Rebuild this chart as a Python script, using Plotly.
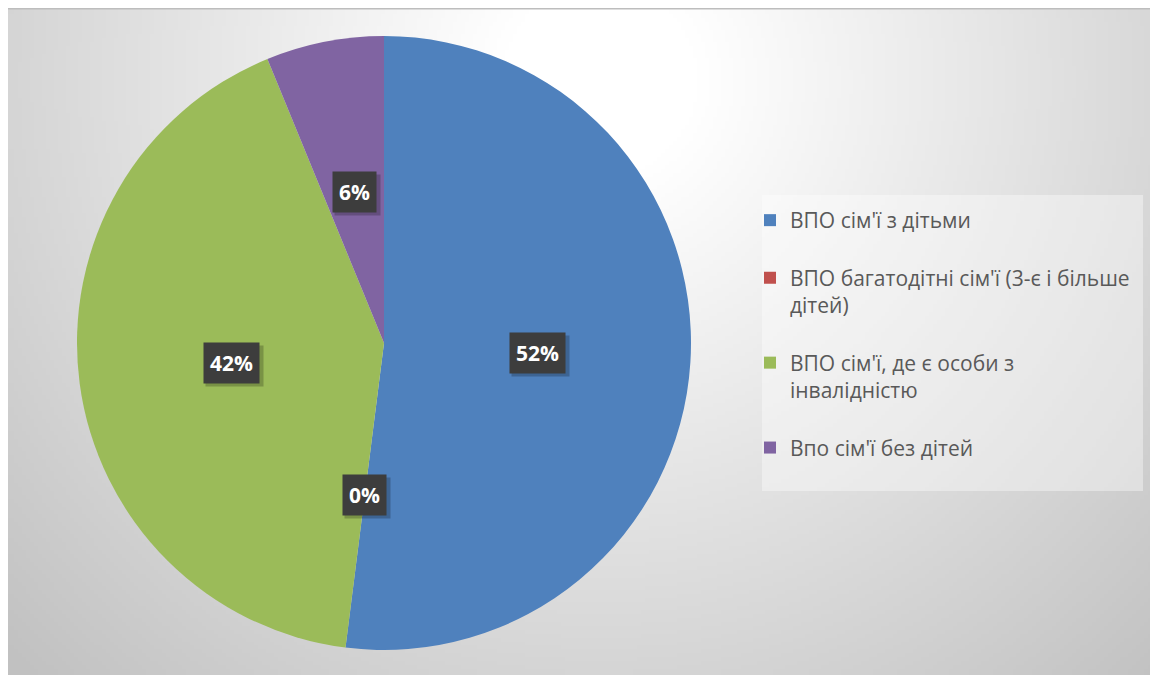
import base64, struct, zlib, math
import numpy as np
import plotly.graph_objects as go

# ---- data ----
labels = [
    "ВПО сім'ї з дітьми",
    "ВПО багатодітні сім'ї (3-є і більше<br>дітей)",
    "ВПО сім'ї, де є особи з<br>інвалідністю",
    "Впо сім'ї без дітей",
]
values = [52.0, 0.0, 41.8, 6.2]
colors = ["#4f81bd", "#c0504d", "#9bbb59", "#8064a2"]

# page body has an 8px margin: figure coordinates = screen coordinates - 8
OFF = 8
W, H = 1158 - OFF, 677 - OFF

def fx(sx):
    return (sx - OFF) / W

def fy(sy):
    return 1 - (sy - OFF) / H

# ---- background radial gradient as a PNG data URI ----
def png_gray(arr):
    h, w = arr.shape
    raw = b"".join(b"\x00" + arr[i].tobytes() for i in range(h))
    def chunk(t, d):
        c = struct.pack(">I", len(d)) + t + d
        return c + struct.pack(">I", zlib.crc32(t + d) & 0xFFFFFFFF)
    png = (b"\x89PNG\r\n\x1a\n"
           + chunk(b"IHDR", struct.pack(">IIBBBBB", w, h, 8, 0, 0, 0, 0))
           + chunk(b"IDAT", zlib.compress(raw))
           + chunk(b"IEND", b""))
    return "data:image/png;base64," + base64.b64encode(png).decode()

gw, gh = 288, 168
xs = OFF + (np.arange(gw) + 0.5) * W / gw
ys = OFF + (np.arange(gh) + 0.5) * (H - 2) / gh
XX, YY = np.meshgrid(xs, ys)
d = np.sqrt((XX - 600) ** 2 + (YY - 80) ** 2)
g = 255 - np.clip((d - 100) * 0.085, 0, 62)
bg_uri = png_gray(g.astype(np.uint8))

# ---- pie geometry (screen pixels) ----
cx, cy, R = 384, 343, 307
dom_x = [fx(cx - R), fx(cx + R)]
dom_y = [fy(cy + R), fy(cy - R)]

# legend text: extra blank lines spread the entries like the original
pad_lines = [1, 1, 1, 0]
legend_names = [lab + "<br>\u00a0" * p for lab, p in zip(labels, pad_lines)]

fig = go.Figure()
fig.add_trace(go.Pie(
    labels=legend_names, values=values, sort=False, direction="clockwise", rotation=0,
    marker=dict(colors=colors, line=dict(width=0)),
    textinfo="none", domain=dict(x=dom_x, y=dom_y), showlegend=True,
    hovertemplate="%{label}: %{percent}<extra></extra>",
))

# ---- data labels computed from the values ----
def spacer(s):
    # blank text of about the same width (for the soft shadow box)
    return "".join("\u2007" if ch.isdigit() else "\u2003" for ch in s)

total = sum(values)
annotations = []
cum = 0.0
for v in values:
    mid = (cum + v / 2) / total * 2 * math.pi
    cum += v
    px = cx + 0.5 * R * math.sin(mid)
    py = cy - 0.5 * R * math.cos(mid)
    txt = f"{round(v / total * 100)}%"
    common = dict(x=fx(px), y=fy(py), xref="paper", yref="paper",
                  showarrow=False, xanchor="center", yanchor="middle", borderpad=6)
    annotations.append(dict(common, xshift=3, yshift=-3, bgcolor="rgba(0,0,0,0.22)",
                            text=f"<b>{spacer(txt)}</b>",
                            font=dict(family="Open Sans", size=21, color="rgba(0,0,0,0)")))
    annotations.append(dict(common, bgcolor="#3d3d3d", text=f"<b>{txt}</b>",
                            font=dict(family="Open Sans", size=21, color="white")))

fig.update_layout(
    width=W, height=H,
    margin=dict(l=0, r=0, t=0, b=0),
    paper_bgcolor="white", plot_bgcolor="white",
    images=[dict(source=bg_uri, xref="paper", yref="paper",
                 x=0, y=1, sizex=1, sizey=(H - 2) / H,
                 xanchor="left", yanchor="top", sizing="stretch", layer="below")],
    shapes=[
        dict(type="rect", xref="paper", yref="paper",
             x0=fx(762), x1=fx(1143), y0=fy(491), y1=fy(195),
             fillcolor="rgba(255,255,255,0.38)", line=dict(width=0), layer="below"),
        dict(type="line", xref="paper", yref="paper",
             x0=0, x1=1, y0=1 - 0.8 / H, y1=1 - 0.8 / H,
             line=dict(color="#bdbdbd", width=1.6)),
    ],
    legend=dict(x=fx(750), y=fy(200), xanchor="left", yanchor="top", valign="top",
                bgcolor="rgba(0,0,0,0)", font=dict(family="Open Sans", size=21, color="#595959"),
                itemclick=False, itemdoubleclick=False),
    annotations=annotations,
)

fig.write_html("out.html")
